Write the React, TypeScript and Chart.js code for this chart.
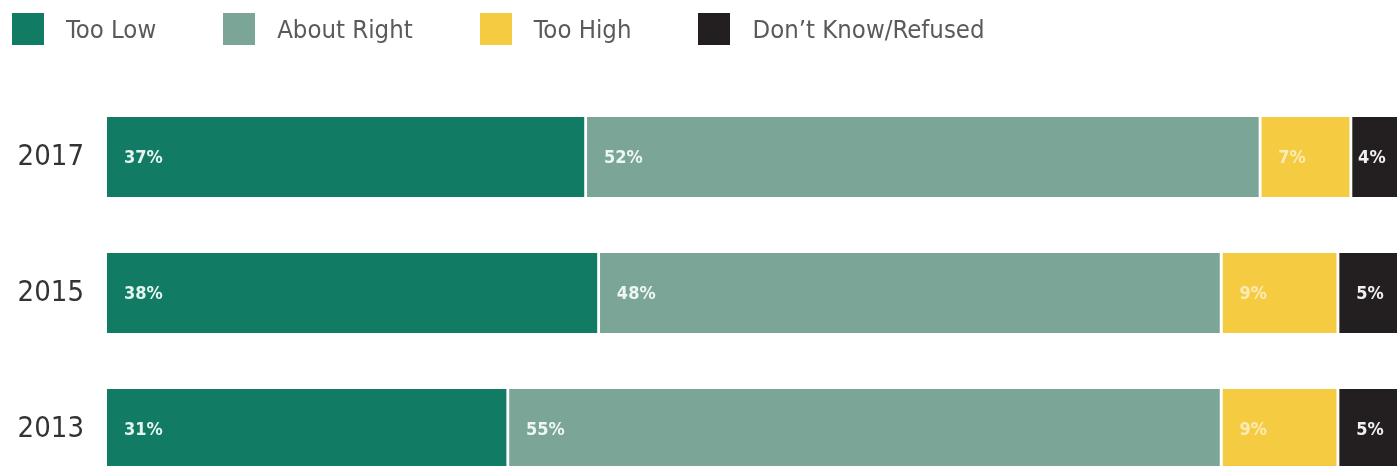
import React, { useEffect, useRef } from "react";
import { Chart, registerables } from "chart.js";

Chart.register(...registerables);

const years = ["2017", "2015", "2013"];
const seriesNames = ["Too Low", "About Right", "Too High", "Don\u2019t Know/Refused"];
const tooLow = [37, 38, 31];
const aboutRight = [52, 48, 55];
const tooHigh = [7, 9, 9];
const dontKnow = [4, 5, 5];
const seriesColors = ["#117b64", "#7aa597", "#f4cb41", "#231f20"];
const labelColors = ["#e4f5ef", "#eef6f3", "rgba(255,255,255,0.62)", "#f0f0f0"];

const LABEL_FONT = "bold 18px 'DejaVu Sans Condensed', 'DejaVu Sans', sans-serif";
const TEXT_FONT = "'Liberation Sans Narrow', 'DejaVu Sans Condensed', 'Liberation Sans', sans-serif";

const segLabels = {
  id: "segLabels",
  afterDatasetsDraw(chart: any) {
    const ctx = chart.ctx;
    ctx.save();
    ctx.font = LABEL_FONT;
    ctx.textBaseline = "middle";
    ctx.textAlign = "left";
    chart.data.datasets.forEach((ds: any, di: number) => {
      const meta = chart.getDatasetMeta(di);
      meta.data.forEach((bar: any, i: number) => {
        const p = bar.getProps(["x", "y", "base"], true);
        const w = p.x - p.base;
        const off = w < 60 ? 6 : 17;
        ctx.fillStyle = labelColors[di];
        ctx.fillText(ds.data[i] + "%", p.base + off, p.y + 1);
      });
    });
    ctx.restore();
  },
};

export default function App() {
  const ref = useRef<HTMLCanvasElement | null>(null);

  useEffect(() => {
    if (!ref.current) return;
    const values = [tooLow, aboutRight, tooHigh, dontKnow];
    const chart = new Chart(ref.current, {
      type: "bar",
      data: {
        labels: years,
        datasets: seriesNames.map((name, i) => ({
          label: name,
          data: values[i],
          backgroundColor: seriesColors[i],
          borderColor: "#ffffff",
          borderWidth: { top: 0, right: 3, bottom: 0, left: 0 },
          borderSkipped: false,
          barThickness: 80,
        })),
      },
      options: {
        indexAxis: "y",
        responsive: true,
        maintainAspectRatio: false,
        animation: false,
        devicePixelRatio: 1,
        layout: { padding: { top: 89, left: 0, right: 0, bottom: 0 } },
        plugins: {
          legend: { display: false },
          tooltip: { enabled: false },
        },
        scales: {
          x: {
            stacked: true,
            min: 0,
            max: 100,
            display: false,
          },
          y: {
            stacked: true,
            grid: { display: false, drawTicks: false },
            border: { display: false },
            ticks: {
              color: "#333333",
              font: { size: 29, family: TEXT_FONT },
              padding: 23,
            },
            afterFit: (s: any) => {
              s.width = 107;
              s.paddingTop = 0;
              s.paddingBottom = 0;
              s.paddingLeft = 0;
              s.paddingRight = 0;
            },
          },
        },
      },
      plugins: [segLabels],
    } as any);
    return () => chart.destroy();
  }, []);

  return (
    <div
      style={{
        position: "absolute",
        left: 0,
        top: 0,
        width: 1397,
        height: 466,
        overflow: "hidden",
        background: "#ffffff",
      }}
    >
      <div style={{ position: "absolute", left: 0, top: 0, width: 1404, height: 497 }}>
        <canvas ref={ref} />
      </div>
      <div
        style={{
          position: "absolute",
          left: 12,
          top: 13,
          height: 32,
          display: "flex",
          alignItems: "center",
          fontFamily: TEXT_FONT,
          fontSize: 25.5,
          color: "#5a5a5a",
          whiteSpace: "nowrap",
        }}
      >
        {seriesNames.map((name, i) => (
          <div key={name} style={{ display: "flex", alignItems: "center", marginRight: 67 }}>
            <div style={{ width: 32, height: 32, background: seriesColors[i], marginRight: 22 }} />
            <span>{name}</span>
          </div>
        ))}
      </div>
    </div>
  );
}
